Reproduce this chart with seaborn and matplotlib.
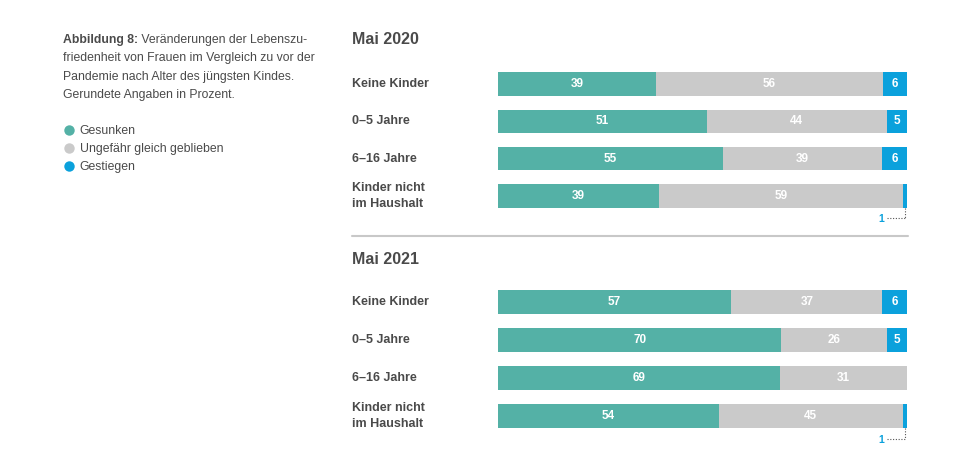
import matplotlib.pyplot as plt
import seaborn as sns
import pandas as pd
from matplotlib.lines import Line2D

categories = ["Keine Kinder", "0–5 Jahre", "6–16 Jahre", "Kinder nicht\nim Haushalt"]
gesunken_2020 = [39, 51, 55, 39]
gleich_2020 = [56, 44, 39, 59]
gestiegen_2020 = [6, 5, 6, 1]
gesunken_2021 = [57, 70, 69, 54]
gleich_2021 = [37, 26, 31, 45]
gestiegen_2021 = [6, 5, 0, 1]
legend_labels = ["Gesunken", "Ungefähr gleich geblieben", "Gestiegen"]

TEAL = "#54b1a6"
GREY = "#cacaca"
BLUE = "#0ba1dc"
TXT = "#4a4a4a"

sns.set_theme(style="white")
plt.rcParams['font.family'] = ['Liberation Sans', 'DejaVu Sans']

fig = plt.figure(figsize=(9.69, 4.61), dpi=100)
W, H = 969, 461


def panel(rect_px, down, same, up):
    x0, y0, x1, y1 = rect_px
    ax = fig.add_axes([x0 / W, 1 - y1 / H, (x1 - x0) / W, (y1 - y0) / H])
    df = pd.DataFrame({"kategorie": categories, "down": down, "same": same, "up": up})
    total = df.down + df.same + df.up
    df["c1"] = df.down / total
    df["c2"] = (df.down + df.same) / total
    df["c3"] = 1.0
    # stacked layers, back to front
    for col, colr in [("c3", BLUE), ("c2", GREY), ("c1", TEAL)]:
        sns.barplot(data=df, x=col, y="kategorie", order=categories, color=colr,
                    width=0.62, ax=ax, orient="h", saturation=1, linewidth=0)
    ax.set_xlim(0, 1)
    ax.set_ylim(3.5, -0.5)
    ax.set_xlabel("")
    ax.set_ylabel("")
    ax.set_xticks([])
    ax.set_yticks([])
    sns.despine(ax=ax, left=True, bottom=True)
    for i, row in df.iterrows():
        segs = [(0, row.c1, row.down), (row.c1, row.c2, row.same), (row.c2, 1.0, row.up)]
        for a, b, v in segs:
            if v > 1:
                ax.text((a + b) / 2, i, str(v), ha="center", va="center",
                        color="white", fontsize=8.5, fontweight="bold")
            elif v == 1:
                xm = (a + b) / 2
                ax.plot([xm, xm], [i + 0.31, i + 0.6], ls=(0, (1, 1.5)), color="#555555",
                        lw=0.8, clip_on=False)
                ax.plot([xm - 0.045, xm], [i + 0.6, i + 0.6], ls=(0, (1, 1.5)),
                        color="#555555", lw=0.8, clip_on=False)
                ax.text(xm - 0.052, i + 0.62, "1", ha="right", va="center",
                        color=BLUE, fontsize=7.5, fontweight="bold", clip_on=False)
        ax.text(-0.357, i, row.kategorie, ha="left", va="center", color=TXT,
                fontsize=9, fontweight="bold", linespacing=1.45,
                transform=ax.get_yaxis_transform())
    return ax


ax1 = panel((498, 65.3, 907, 214.7), gesunken_2020, gleich_2020, gestiegen_2020)
ax2 = panel((498, 283, 907, 435), gesunken_2021, gleich_2021, gestiegen_2021)

bg = fig.add_axes([0, 0, 1, 1], zorder=-1)
bg.set_xlim(0, W)
bg.set_ylim(H, 0)
bg.axis("off")
bg.text(352, 40, "Mai 2020", ha="left", va="center", color=TXT, fontsize=11.5, fontweight="bold")
bg.text(352, 259, "Mai 2021", ha="left", va="center", color=TXT, fontsize=11.5, fontweight="bold")
bg.plot([352, 908], [236, 236], color="#c8c8c8", lw=1.5)

t = bg.text(63, 40, "Abbildung 8:", ha="left", va="center", color=TXT,
            fontsize=8.8, fontweight="bold")
bg.annotate(" Veränderungen der Lebenszu-", xy=(1, 0.5), xycoords=t, ha="left",
            va="center", color=TXT, fontsize=8.8)
for k, line in enumerate(["friedenheit von Frauen im Vergleich zu vor der",
                          "Pandemie nach Alter des jüngsten Kindes.",
                          "Gerundete Angaben in Prozent."]):
    bg.text(63, 58.5 + k * 18.3, line, ha="left", va="center", color=TXT, fontsize=8.8)

handles = [Line2D([], [], marker="o", ls="", markersize=7.5, markerfacecolor=c,
                  markeredgewidth=0, label=l) for c, l in zip([TEAL, GREY, BLUE], legend_labels)]
fig.legend(handles=handles, loc="upper left", bbox_to_anchor=(63 / W, 1 - 125 / H),
           frameon=False, fontsize=8.8, handletextpad=0.45, labelspacing=0.5,
           handlelength=0.9, borderaxespad=0, borderpad=0, labelcolor=TXT)

fig.savefig("out.png", dpi=100, facecolor="white")
